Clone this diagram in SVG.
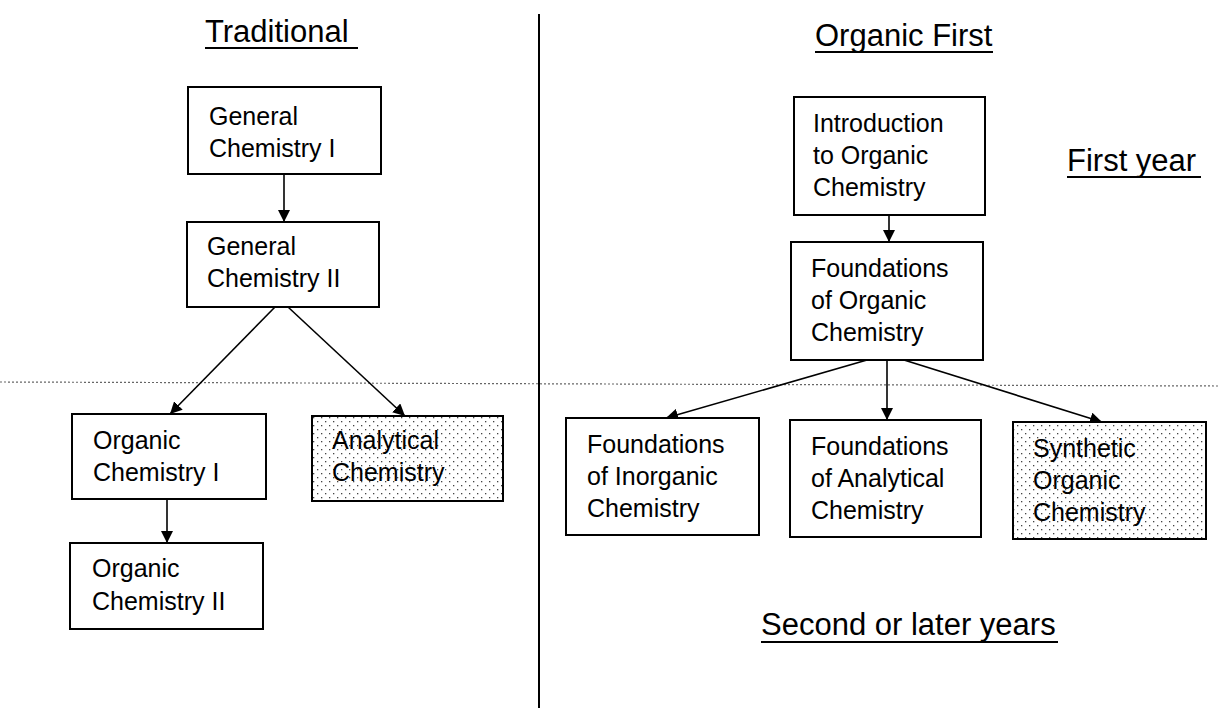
<svg xmlns="http://www.w3.org/2000/svg" width="1220" height="708" viewBox="0 0 1220 708">
<style>
.box{fill:#fff;stroke:#000;stroke-width:2}
.dot{fill:url(#dots);stroke:#000;stroke-width:2}
.t{font-family:"Liberation Sans",Arial,sans-serif;font-size:25px;fill:#000}
.h{font-family:"Liberation Sans",Arial,sans-serif;font-size:31px;fill:#000}
.ul{stroke:#000;stroke-width:2}
.c{stroke:#000;stroke-width:1.6;fill:none;marker-end:url(#arr)}
</style>
<defs>
<pattern id="dots" width="8" height="8" patternUnits="userSpaceOnUse">
<rect width="8" height="8" fill="#fff"/>
<rect x="1" y="1" width="1.3" height="1.3" fill="#444"/>
<rect x="5" y="5" width="1.3" height="1.3" fill="#444"/>
</pattern>
<marker id="arr" markerUnits="userSpaceOnUse" markerWidth="12" markerHeight="12" refX="12" refY="6" orient="auto">
<path d="M0,0 L12,6 L0,12 z" fill="#000"/>
</marker>
</defs>
<rect width="1220" height="708" fill="#fff"/>
<g id="dividers">
<line x1="539" y1="14" x2="539" y2="708" stroke="#000" stroke-width="2"/>
<line x1="0" y1="382" x2="1220" y2="386" stroke="#666" stroke-width="1.2" stroke-dasharray="2 2"/>
</g>
<g id="headings">
<text class="h" x="205" y="42">Traditional</text>
<line class="ul" x1="205" y1="48" x2="358" y2="48"/>
<text class="h" x="815" y="46">Organic First</text>
<line class="ul" x1="815" y1="52" x2="993" y2="52"/>
<text class="h" x="1067" y="171">First year</text>
<line class="ul" x1="1067" y1="177" x2="1201" y2="177"/>
<text class="h" x="761" y="635">Second or later years</text>
<line class="ul" x1="761" y1="642" x2="1058" y2="642"/>
</g>
<g id="connectors">
<line class="c" x1="284" y1="174" x2="284" y2="222"/>
<line class="c" x1="275" y1="307" x2="170" y2="414"/>
<line class="c" x1="288" y1="307" x2="405" y2="416"/>
<line class="c" x1="167" y1="499" x2="167" y2="543"/>
<line class="c" x1="889" y1="215" x2="889" y2="242"/>
<line class="c" x1="867" y1="360" x2="666" y2="418"/>
<line class="c" x1="887" y1="360" x2="887" y2="420"/>
<line class="c" x1="904" y1="360" x2="1102" y2="422"/>
</g>
<g id="gen-chem-1">
<rect class="box" x="188" y="87" width="193" height="87"/>
<text class="t" x="209" y="125">General</text>
<text class="t" x="209" y="157">Chemistry I</text>
</g>
<g id="gen-chem-2">
<rect class="box" x="187" y="222" width="192" height="85"/>
<text class="t" x="207" y="255">General</text>
<text class="t" x="207" y="287">Chemistry II</text>
</g>
<g id="org-chem-1">
<rect class="box" x="72" y="414" width="194" height="85"/>
<text class="t" x="93" y="449">Organic</text>
<text class="t" x="93" y="481">Chemistry I</text>
</g>
<g id="analytical-chem">
<rect class="dot" x="312" y="416" width="191" height="85"/>
<text class="t" x="332" y="449">Analytical</text>
<text class="t" x="332" y="481">Chemistry</text>
</g>
<g id="org-chem-2">
<rect class="box" x="70" y="543" width="193" height="86"/>
<text class="t" x="92" y="577">Organic</text>
<text class="t" x="92" y="610">Chemistry II</text>
</g>
<g id="intro-org">
<rect class="box" x="794" y="97" width="191" height="118"/>
<text class="t" x="813" y="132">Introduction</text>
<text class="t" x="813" y="164">to Organic</text>
<text class="t" x="813" y="196">Chemistry</text>
</g>
<g id="found-org">
<rect class="box" x="791" y="242" width="192" height="118"/>
<text class="t" x="811" y="277">Foundations</text>
<text class="t" x="811" y="309">of Organic</text>
<text class="t" x="811" y="341">Chemistry</text>
</g>
<g id="found-inorg">
<rect class="box" x="566" y="418" width="193" height="117"/>
<text class="t" x="587" y="453">Foundations</text>
<text class="t" x="587" y="485">of Inorganic</text>
<text class="t" x="587" y="517">Chemistry</text>
</g>
<g id="found-anal">
<rect class="box" x="790" y="420" width="191" height="117"/>
<text class="t" x="811" y="455">Foundations</text>
<text class="t" x="811" y="487">of Analytical</text>
<text class="t" x="811" y="519">Chemistry</text>
</g>
<g id="synthetic-org">
<rect class="dot" x="1013" y="422" width="193" height="117"/>
<text class="t" x="1033" y="457">Synthetic</text>
<text class="t" x="1033" y="489">Organic</text>
<text class="t" x="1033" y="521">Chemistry</text>
</g>
</svg>
